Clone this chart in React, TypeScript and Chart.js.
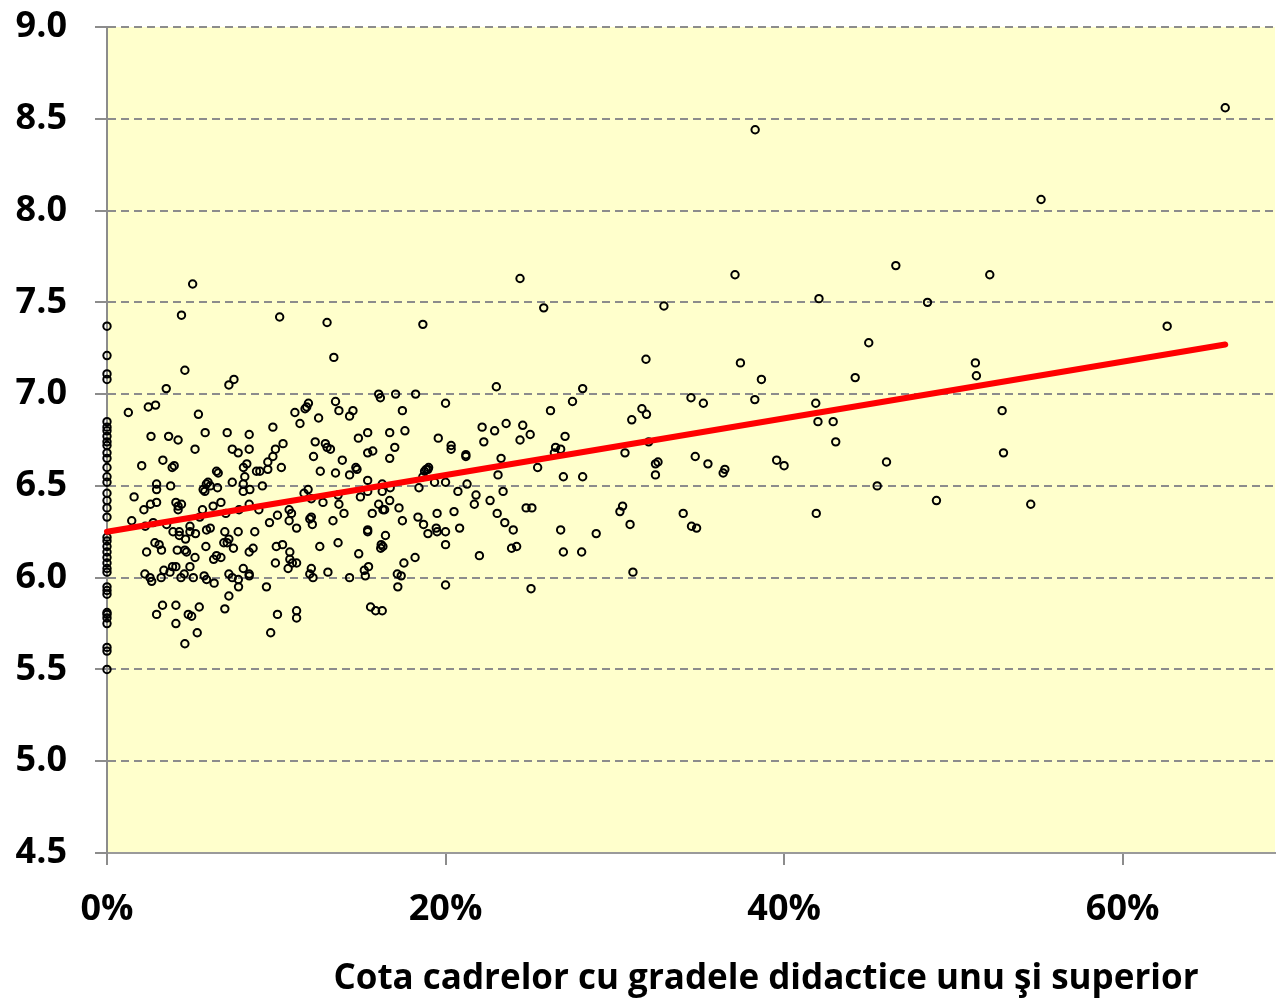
import { useEffect, useRef } from "react";
import { Chart, registerables } from "chart.js";

Chart.register(...registerables);

const X_TITLE = "Cota cadrelor cu gradele didactice unu şi superior";

// Y axis ticks (average grade) and X axis ticks (share in %)
const yTickMin = 4.5;
const yTickMax = 9.0;
const yTickStep = 0.5;
const xTickMin = 0;
const xTickMax = 69;
const xTickStep = 20;

// Schools at 0% share
const zeroShareGrades = [
  7.37, 7.21, 7.11, 7.08, 6.85, 6.82, 6.8, 6.77, 6.74, 6.72, 6.68, 6.65, 6.6,
  6.55, 6.52, 6.46, 6.42, 6.38, 6.33, 6.22, 6.2, 6.17, 6.14, 6.11, 6.08, 6.05,
  6.03, 5.95, 5.93, 5.91, 5.81, 5.8, 5.78, 5.75, 5.62, 5.6, 5.5,
];

// Other schools: share (%) and average grade
const shareValues = [
  5.06, 4.4, 10.2, 13.0, 13.4, 4.6, 3.5, 7.2, 7.5, 1.26, 2.44, 2.87, 5.4, 2.6, 3.64, 4.2, 5.8, 5.2, 7.1, 7.4,
  7.75, 8.4, 8.4, 9.8, 10.4, 9.95, 9.8, 11.1, 11.4, 11.7, 11.8, 11.9, 12.5, 12.3, 12.9, 13.0, 13.2, 12.2, 13.5, 2.05,
  3.97, 3.3, 3.85, 6.47, 6.57, 8.06, 8.26, 8.14, 8.83, 9.03, 9.5, 9.5, 10.3, 12.6, 13.5, 1.6, 2.93, 2.93, 3.76, 2.57,
  2.18, 2.93, 1.46, 2.26, 2.73, 3.52, 4.07, 4.2, 4.2, 4.4, 3.9, 4.27, 4.27, 4.9, 4.9, 5.23, 4.64, 5.48, 5.64, 5.87,
  5.97, 6.1, 5.68, 5.78, 6.53, 6.27, 6.73, 7.4, 7.02, 8.05, 8.05, 8.44, 9.18, 7.8, 8.4, 8.97, 9.6, 10.07, 10.76, 10.9,
  10.76, 11.2, 11.64, 11.88, 12.07, 12.76, 11.98, 12.07, 12.13, 13.35, 13.65, 13.65, 2.34, 2.83, 3.08, 3.22, 4.15, 4.6, 4.7, 5.2,
  5.88, 6.1, 6.96, 7.2, 7.1, 6.9, 7.47, 5.84, 6.47, 6.3, 6.73, 7.75, 8.73, 8.4, 8.63, 10.0, 10.37, 10.8, 10.8, 11.2,
  10.95, 9.95, 10.7, 8.05, 12.57, 12.07, 11.98, 12.17, 13.05, 2.24, 2.54, 2.64, 3.2, 3.36, 3.72, 3.87, 4.07, 4.37, 4.56, 4.9,
  5.1, 5.74, 5.88, 6.33, 7.2, 7.4, 7.76, 8.4, 8.4, 7.77, 7.2, 9.42, 6.96, 3.28, 4.07, 2.93, 4.8, 5.0, 5.45, 4.07,
  5.33, 4.6, 10.07, 11.2, 11.2, 9.67,
  24.4, 25.8, 18.66, 23.0, 28.1, 16.05, 16.15, 17.05, 18.23, 20.0, 13.7, 14.33, 14.53, 17.45, 27.5, 26.2, 22.16, 23.58, 24.56, 22.9,
  25.0, 24.4, 27.06, 22.26, 26.5, 26.8, 26.43, 23.28, 25.44, 21.2, 21.2, 20.33, 20.33, 19.57, 16.7, 15.4, 17.6, 17.0, 16.7, 15.4,
  15.7, 14.85, 13.9, 14.7, 18.86, 19.0,
  14.33, 14.77, 15.4, 18.76, 18.96, 18.66, 19.35, 20.0, 21.27, 23.1, 26.96, 28.1, 13.7, 14.0, 14.97, 15.4, 16.26, 16.26, 16.73, 16.7,
  16.05, 16.3, 16.4, 15.67, 17.25, 18.43, 17.45, 18.37, 18.7, 19.5, 20.5, 20.73, 21.8, 21.7, 22.63, 23.4, 23.05, 23.5, 24.0, 24.76,
  25.1, 26.8, 28.9, 23.9, 24.2, 22.0, 26.96, 28.04, 20.83, 19.45, 19.5, 20.0, 18.96, 20.0, 18.2, 17.54, 17.15, 17.38, 17.18, 20.0,
  25.05, 15.4, 15.4, 16.45, 16.2, 16.17, 16.3, 14.87, 14.33, 15.2, 15.45, 15.26, 15.57, 15.87, 16.26,
  37.1, 42.06, 32.9, 46.6, 45.0, 31.84, 37.42, 38.66, 44.2, 38.27, 34.5, 35.23, 41.87, 31.6, 31.87, 31.0, 42.0, 42.9, 43.05, 32.0,
  30.6, 34.75, 35.5, 32.4, 32.55, 32.4, 36.4, 36.5, 39.56, 40.0, 46.05, 45.5, 30.46, 30.3, 30.9, 34.04, 34.53, 34.83, 41.9, 31.07,
  66.06, 55.18, 52.15, 48.47, 62.63, 51.3, 51.36, 52.88, 52.96, 49.0, 54.57, 38.29,
];

const gradeValues = [
  7.6, 7.43, 7.42, 7.39, 7.2, 7.13, 7.03, 7.05, 7.08, 6.9, 6.93, 6.94, 6.89, 6.77, 6.77, 6.75, 6.79, 6.7, 6.79, 6.7,
  6.68, 6.78, 6.7, 6.82, 6.73, 6.7, 6.66, 6.9, 6.84, 6.92, 6.93, 6.95, 6.87, 6.74, 6.73, 6.71, 6.7, 6.66, 6.96, 6.61,
  6.61, 6.64, 6.6, 6.58, 6.57, 6.6, 6.62, 6.55, 6.58, 6.58, 6.59, 6.63, 6.6, 6.58, 6.57, 6.44, 6.51, 6.48, 6.5, 6.4,
  6.37, 6.41, 6.31, 6.28, 6.3, 6.29, 6.41, 6.39, 6.37, 6.4, 6.25, 6.25, 6.23, 6.28, 6.25, 6.24, 6.21, 6.33, 6.37, 6.51,
  6.52, 6.5, 6.48, 6.47, 6.49, 6.39, 6.41, 6.52, 6.35, 6.51, 6.47, 6.48, 6.5, 6.37, 6.4, 6.37, 6.3, 6.34, 6.37, 6.35,
  6.31, 6.27, 6.46, 6.48, 6.43, 6.41, 6.32, 6.33, 6.29, 6.31, 6.45, 6.19, 6.14, 6.19, 6.18, 6.15, 6.15, 6.15, 6.14, 6.11,
  6.26, 6.27, 6.25, 6.21, 6.19, 6.19, 6.16, 6.17, 6.12, 6.1, 6.11, 6.25, 6.25, 6.14, 6.16, 6.17, 6.18, 6.14, 6.1, 6.08,
  6.08, 6.08, 6.05, 6.05, 6.17, 6.05, 6.02, 6.0, 6.03, 6.02, 6.0, 5.98, 6.0, 6.04, 6.03, 6.06, 6.06, 6.0, 6.02, 6.06,
  6.0, 6.01, 5.99, 5.97, 6.02, 6.0, 5.99, 6.02, 6.01, 5.95, 5.9, 5.95, 5.83, 5.85, 5.85, 5.8, 5.8, 5.79, 5.84, 5.75,
  5.7, 5.64, 5.8, 5.82, 5.78, 5.7,
  7.63, 7.47, 7.38, 7.04, 7.03, 7.0, 6.98, 7.0, 7.0, 6.95, 6.91, 6.88, 6.91, 6.91, 6.96, 6.91, 6.82, 6.84, 6.83, 6.8,
  6.78, 6.75, 6.77, 6.74, 6.71, 6.7, 6.68, 6.65, 6.6, 6.67, 6.66, 6.72, 6.7, 6.76, 6.79, 6.79, 6.8, 6.71, 6.65, 6.68,
  6.69, 6.76, 6.64, 6.6, 6.59, 6.6,
  6.56, 6.59, 6.53, 6.58, 6.59, 6.55, 6.52, 6.52, 6.51, 6.56, 6.55, 6.55, 6.4, 6.35, 6.44, 6.47, 6.51, 6.47, 6.49, 6.42,
  6.4, 6.37, 6.37, 6.35, 6.38, 6.49, 6.31, 6.33, 6.29, 6.35, 6.36, 6.47, 6.45, 6.4, 6.42, 6.47, 6.35, 6.3, 6.26, 6.38,
  6.38, 6.26, 6.24, 6.16, 6.17, 6.12, 6.14, 6.14, 6.27, 6.27, 6.25, 6.25, 6.24, 6.18, 6.11, 6.08, 6.02, 6.01, 5.95, 5.96,
  5.94, 6.26, 6.25, 6.23, 6.18, 6.16, 6.17, 6.13, 6.0, 6.04, 6.06, 6.01, 5.84, 5.82, 5.82,
  7.65, 7.52, 7.48, 7.7, 7.28, 7.19, 7.17, 7.08, 7.09, 6.97, 6.98, 6.95, 6.95, 6.92, 6.89, 6.86, 6.85, 6.85, 6.74, 6.74,
  6.68, 6.66, 6.62, 6.62, 6.63, 6.56, 6.57, 6.59, 6.64, 6.61, 6.63, 6.5, 6.39, 6.36, 6.29, 6.35, 6.28, 6.27, 6.35, 6.03,
  8.56, 8.06, 7.65, 7.5, 7.37, 7.17, 7.1, 6.91, 6.68, 6.42, 6.4, 8.44,
];

// Linear trend line endpoints
const trendShare = [0, 66.06];
const trendGrade = [6.25, 7.27];

const FONT = '"Open Sans", "DejaVu Sans", sans-serif';

const plotBgPlugin = {
  id: "plotBg",
  beforeDraw(chart: any) {
    const { ctx, chartArea: a } = chart;
    ctx.save();
    ctx.fillStyle = "#FFFFCC";
    ctx.fillRect(a.left, a.top, a.right - a.left, a.bottom - a.top);
    ctx.restore();
  },
};

const xTitlePlugin = {
  id: "xTitle",
  afterDraw(chart: any) {
    const { ctx } = chart;
    ctx.save();
    ctx.font = `bold 35px ${FONT}`;
    ctx.fillStyle = "#000";
    ctx.textAlign = "center";
    ctx.textBaseline = "middle";
    ctx.fillText(X_TITLE, 766, 979);
    ctx.restore();
  },
};

export default function App() {
  const ref = useRef<HTMLCanvasElement | null>(null);

  useEffect(() => {
    if (!ref.current) return;
    const points = [
      ...zeroShareGrades.map((y) => ({ x: 0, y })),
      ...shareValues.map((x, i) => ({ x, y: gradeValues[i] })),
    ];
    const trend = trendShare.map((x, i) => ({ x, y: trendGrade[i] }));

    const chart = new Chart(ref.current, {
      type: "scatter",
      data: {
        datasets: [
          {
            type: "line",
            data: trend,
            borderColor: "#FF0000",
            borderWidth: 6,
            borderCapStyle: "round",
            pointRadius: 0,
            fill: false,
            clip: false,
          } as any,
          {
            data: points,
            pointRadius: 3.7,
            pointBorderWidth: 2,
            borderColor: "#000000",
            backgroundColor: "rgba(0,0,0,0)",
            pointStyle: "circle",
            clip: false,
          } as any,
        ],
      },
      options: {
        animation: false,
        responsive: false,
        maintainAspectRatio: false,
        layout: { autoPadding: false, padding: { top: 27, right: 1, left: 0, bottom: 0 } },
        plugins: {
          legend: { display: false },
          tooltip: { enabled: false },
        },
        scales: {
          x: {
            type: "linear",
            min: xTickMin,
            max: xTickMax,
            afterFit(scale: any) {
              scale.height = 147;
              scale.paddingLeft = 0;
              scale.paddingRight = 0;
            },
            ticks: {
              stepSize: xTickStep,
              includeBounds: false,
              padding: 23,
              color: "#000",
              font: { family: FONT, size: 36, weight: "bold" },
              callback: (v: any) => `${v}%`,
            },
            grid: {
              drawOnChartArea: false,
              drawTicks: true,
              tickLength: 12,
              color: "#8c8c8c",
              lineWidth: 2,
            },
            border: { display: true, color: "#9a9a9a", width: 2 },
          },
          y: {
            type: "linear",
            min: yTickMin,
            max: yTickMax,
            afterFit(scale: any) {
              scale.width = 107;
              scale.paddingTop = 0;
              scale.paddingBottom = 0;
              scale.paddingLeft = 0;
              scale.paddingRight = 0;
            },
            ticks: {
              stepSize: yTickStep,
              padding: 28,
              color: "#000",
              font: { family: FONT, size: 36, weight: "bold" },
              callback: (v: any) => Number(v).toFixed(1),
            },
            grid: {
              drawOnChartArea: true,
              drawTicks: true,
              tickLength: 12,
              color: "#8c8c8c",
              lineWidth: 2,
              tickBorderDash: [],
            },
            border: { display: true, color: "#8c8c8c", width: 2, dash: [8, 5] },
          },
        },
      } as any,
      plugins: [plotBgPlugin, xTitlePlugin],
    });
    return () => chart.destroy();
  }, []);

  return (
    <div style={{ position: "fixed", left: 0, top: 0, width: 1276, height: 1000 }}>
      <canvas ref={ref} width={1276} height={1000} style={{ display: "block" }} />
    </div>
  );
}
